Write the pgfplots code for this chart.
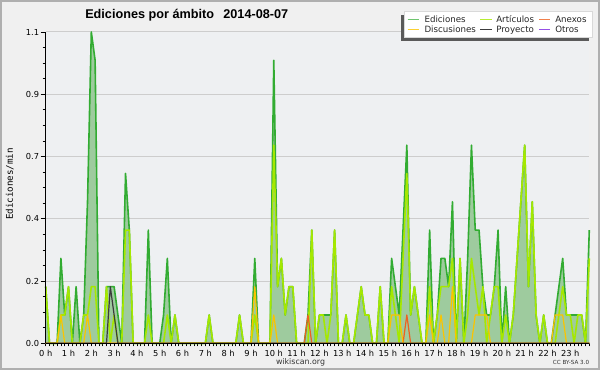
\documentclass[border=0pt]{standalone}
\usepackage{fontspec}
\setmainfont{DejaVu Sans}
\newfontfamily\titlefont{Liberation Sans}
\newfontfamily\labelfont{DejaVu Sans Mono}
\usepackage{pgfplots}
\usepackage{pgfplotstable}
\pgfplotsset{compat=1.18}

\definecolor{outerbg}{RGB}{240,240,240}
\definecolor{plotbg}{RGB}{238,240,242}
\definecolor{framecol}{RGB}{175,175,175}
\definecolor{gridcol}{RGB}{205,205,205}
\definecolor{edline}{RGB}{50,172,50}
\definecolor{edfill}{RGB}{158,203,158}
\definecolor{artcol}{RGB}{165,232,0}
\definecolor{anxcol}{RGB}{238,96,32}
\definecolor{disccol}{RGB}{250,196,0}
\definecolor{proycol}{RGB}{60,60,60}
\definecolor{otrcol}{RGB}{150,80,230}
\definecolor{shadowcol}{RGB}{90,90,90}

\pgfplotstableread{
x ed art anx disc proy otr
0 0.2 0.2 0 0 0 0
1 0 0 0 0 0 0
2 0 0 0 0 0 0
3 0 0 0 0 0 0
4 0.3 0.1 0 0.1 0 0
5 0.1 0.1 0 0 0 0
6 0.2 0.2 0 0 0 0
7 0 0 0 0 0 0
8 0.2 0 0 0 0 0
9 0 0 0 0 0 0
10 0.1 0.1 0 0 0 0
11 0.5 0.1 0 0.1 0 0
12 1.1 0.2 0 0 0 0
13 1.0 0.2 0 0 0 0
14 0 0 0 0 0 0
15 0 0 0 0 0 0
16 0.2 0.2 0 0 0 0
17 0.2 0 0 0 0.2 0
18 0.2 0.1 0 0 0.1 0
19 0.1 0 0 0 0 0
20 0 0 0 0 0 0
21 0.6 0.4 0 0 0 0
22 0.4 0.4 0 0 0 0
23 0 0 0 0 0 0
24 0 0 0 0 0 0
25 0 0 0 0 0 0
26 0 0 0 0 0 0
27 0.4 0.1 0 0 0 0
28 0 0 0 0 0 0
29 0 0 0 0 0 0
30 0 0 0 0 0 0
31 0.1 0 0 0 0 0
32 0.3 0.1 0 0 0 0
33 0 0 0 0 0 0
34 0.1 0.1 0 0 0 0
35 0 0 0 0 0 0
36 0 0 0 0 0 0
37 0 0 0 0 0 0
38 0 0 0 0 0 0
39 0 0 0 0 0 0
40 0 0 0 0 0 0
41 0 0 0 0 0 0
42 0 0 0 0 0 0
43 0.1 0.1 0 0 0 0
44 0 0 0 0 0 0
45 0 0 0 0 0 0
46 0 0 0 0 0 0
47 0 0 0 0 0 0
48 0 0 0 0 0 0
49 0 0 0 0 0 0
50 0 0 0 0 0 0
51 0.1 0.1 0 0 0 0
52 0 0 0 0 0 0
53 0 0 0 0 0 0
54 0 0 0 0 0 0
55 0.3 0.1 0 0.2 0 0
56 0 0 0 0 0 0
57 0 0 0 0 0 0
58 0 0 0 0 0 0
59 0 0 0 0 0 0
60 1.0 0.7 0 0.1 0 0
61 0.2 0.2 0 0 0 0
62 0.3 0.3 0 0 0 0
63 0.1 0.1 0 0 0 0
64 0.2 0.2 0 0 0 0
65 0.2 0.2 0 0 0 0
66 0 0 0 0 0 0
67 0 0 0 0 0 0
68 0 0 0 0 0 0
69 0.1 0 0.1 0 0 0
70 0.4 0.4 0 0 0 0
71 0 0 0 0 0 0
72 0.1 0.1 0 0 0 0
73 0.1 0.1 0 0 0 0
74 0.1 0 0 0 0 0
75 0.1 0.1 0 0 0 0
76 0.4 0.4 0 0 0 0
77 0 0 0 0 0 0
78 0 0 0 0 0 0
79 0.1 0.1 0 0 0 0
80 0 0 0 0 0 0
81 0 0 0 0 0 0
82 0.1 0.1 0 0 0 0
83 0.2 0.2 0 0 0 0
84 0.1 0.1 0 0 0 0
85 0.1 0.1 0 0 0 0
86 0 0 0 0 0 0
87 0 0 0 0 0 0
88 0.2 0.2 0 0 0 0
89 0 0 0 0 0 0
90 0 0 0 0 0 0
91 0.3 0.2 0 0.1 0 0
92 0.2 0.1 0 0.1 0 0
93 0.1 0 0 0.1 0 0
94 0.4 0.3 0 0 0 0
95 0.7 0.6 0.1 0 0 0
96 0.1 0.1 0 0 0 0
97 0.2 0.2 0 0 0 0
98 0.1 0.1 0 0 0 0
99 0 0 0 0 0 0
100 0 0 0 0 0 0
101 0.4 0.2 0 0.1 0 0
102 0 0 0 0 0 0
103 0.1 0.1 0 0 0 0
104 0.3 0.2 0 0.1 0 0
105 0.3 0.2 0 0 0 0
106 0.2 0.2 0 0 0 0
107 0.5 0.3 0 0.2 0 0
108 0 0 0 0 0 0
109 0.3 0.3 0 0 0 0
110 0 0 0 0 0 0
111 0.3 0.1 0 0 0 0
112 0.7 0.3 0 0 0 0
113 0.4 0.2 0 0.1 0 0
114 0.4 0.1 0 0.1 0 0
115 0.2 0.2 0 0.1 0 0
116 0.1 0 0 0.1 0 0
117 0.1 0.1 0 0 0 0
118 0.2 0.2 0 0 0 0
119 0.4 0.2 0 0 0 0
120 0 0 0 0 0 0
121 0.2 0.1 0 0 0 0
122 0 0 0 0 0 0
123 0.1 0.1 0 0 0 0
124 0.3 0.3 0 0 0 0
125 0.5 0.5 0 0 0 0
126 0.7 0.7 0 0 0 0
127 0.2 0.2 0 0 0 0
128 0.5 0.5 0 0 0 0
129 0.1 0.1 0 0 0 0
130 0 0 0 0 0 0
131 0.1 0.1 0 0 0 0
132 0 0 0 0 0 0
133 0 0 0 0 0 0
134 0.1 0 0 0.1 0 0
135 0.2 0.1 0 0.1 0 0
136 0.3 0.2 0 0.1 0 0
137 0.1 0.1 0 0 0 0
138 0.1 0.1 0 0 0 0
139 0.1 0 0 0 0 0
140 0.1 0.1 0 0 0 0
141 0.1 0.1 0 0 0 0
142 0 0 0 0 0 0
143 0.4 0.3 0 0 0 0
}\datatable

\begin{document}
\begin{tikzpicture}
\path[use as bounding box] (0,0) rectangle (450pt,277.5pt);
\fill[outerbg] (0,0) rectangle (450pt,277.5pt);
\draw[framecol, line width=1.2pt] (0.6pt,0.6pt) rectangle (449.4pt,276.9pt);
\begin{axis}[
  at={(34.275pt,20.025pt)}, anchor=south west,
  scale only axis, width=407.7pt, height=233.475pt,
  xmin=0, xmax=143, ymin=0, ymax=1.1,
  axis x line*=bottom, axis y line*=left,
  axis line style={black, line width=0.8pt, -},
  xtick={0,6,...,138},
  xticklabels={0 h,1 h,2 h,3 h,4 h,5 h,6 h,7 h,8 h,9 h,10 h,11 h,12 h,13 h,14 h,15 h,16 h,17 h,18 h,19 h,20 h,21 h,22 h,23 h},
  minor xtick={0,1,...,143},
  every major x tick/.append style={draw=none},
  ytick={0,0.22,0.44,0.66,0.88,1.1},
  yticklabels={0.0,0.2,0.4,0.7,0.9,1.1},
  minor y tick num=3,
  tick align=outside,
  major tick length=3.75pt, minor tick length=2.25pt,
  tick style={black, line width=0.6pt},
  ymajorgrids, grid style={gridcol, line width=0.75pt},
  axis background/.style={fill=plotbg},
  clip=false,
  no markers,
  every axis plot/.append style={line join=round},
  xticklabel style={font=\fontsize{6.2}{7}\selectfont, inner sep=1pt},
  yticklabel style={font=\fontsize{6.2}{7}\selectfont, inner sep=1pt},
]
\addplot[draw=none, fill=edfill] table[x=x,y=ed]{\datatable} \closedcycle;
\addplot[edline, line width=1.2pt] table[x=x,y=ed]{\datatable};
\addplot[artcol, line width=1.2pt] table[x=x,y=art]{\datatable};
\addplot[anxcol, line width=0.9pt] table[x=x,y=anx]{\datatable};
\addplot[disccol, line width=0.9pt] table[x=x,y=disc]{\datatable};
\addplot[proycol, line width=0.9pt] table[x=x,y=proy]{\datatable};
\addplot[otrcol, line width=0.9pt] table[x=x,y=otr]{\datatable};
\draw[black, line width=0.8pt] (rel axis cs:0,0) -- (rel axis cs:1,0);
\draw[black, line width=0.8pt] (rel axis cs:0,0) -- (rel axis cs:0,1);
\end{axis}
% title and labels
\node[anchor=base west, inner sep=0pt, font=\titlefont\bfseries\fontsize{9.5}{10}\selectfont] at (63.75pt,263.8pt) {Ediciones por ámbito\hspace{7pt}2014-08-07};
\node[rotate=90, inner sep=0pt, font=\labelfont\fontsize{6.9}{8}\selectfont] at (7.3pt,139.5pt) {Ediciones/min};
\node[anchor=base, inner sep=0pt, font=\fontsize{5.9}{7}\selectfont, text=black!80] at (225.4pt,4.3pt) {wikiscan.org};
\node[anchor=base east, inner sep=0pt, font=\fontsize{4.2}{5}\selectfont, text=black!80] at (442pt,3.75pt) {CC BY-SA 3.0};
% legend
\fill[shadowcol] (300.7pt,246.4pt) rectangle (442pt,265.9pt);
\filldraw[fill=white, draw=black!15, line width=0.5pt] (303.2pt,249.2pt) rectangle (444.5pt,268.7pt);
\begin{scope}[line width=0.6pt]
\draw[edline!70] (305.8pt,263.25pt) -- (314.5pt,263.25pt);
\draw[artcol!80] (360pt,263.25pt) -- (368.8pt,263.25pt);
\draw[anxcol!80] (404.5pt,263.25pt) -- (412.5pt,263.25pt);
\draw[disccol!80] (305.8pt,255.5pt) -- (314.5pt,255.5pt);
\draw[proycol] (360pt,255.5pt) -- (368.8pt,255.5pt);
\draw[otrcol] (404.5pt,255.5pt) -- (412.5pt,255.5pt);
\end{scope}
\begin{scope}[every node/.style={anchor=base west, inner sep=0pt, font=\fontsize{6.5}{7}\selectfont, text=black!85}]
\node at (318.2pt,260.5pt) {Ediciones};
\node at (372pt,260.5pt) {Artículos};
\node at (416.25pt,260.5pt) {Anexos};
\node at (318.2pt,253pt) {Discusiones};
\node at (372pt,253pt) {Proyecto};
\node at (416.25pt,253pt) {Otros};
\end{scope}
\end{tikzpicture}
\end{document}
